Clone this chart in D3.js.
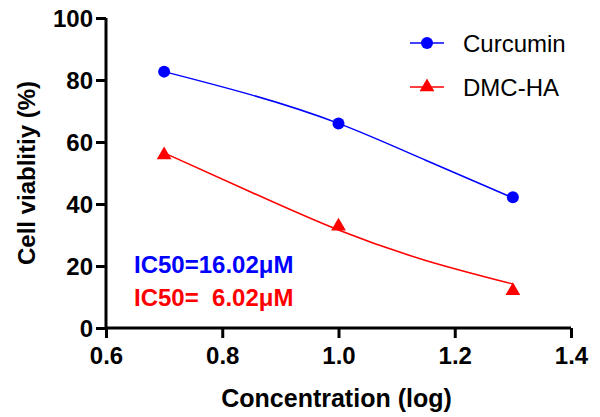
<!DOCTYPE html>
<html>
<head>
<meta charset="utf-8">
<title>Cell viability</title>
<script src="https://d3js.org/d3.v7.min.js"></script>
<style>
  body { margin: 0; background: #fff; }
  text { font-family: "Liberation Sans", Arial, sans-serif; }
</style>
</head>
<body>
<div id="chart"></div>
<script>
// data
var concentration = [0.7, 1.0, 1.3]
var curcumin = [82.7, 66.0, 42.2]
var dmcha = [55.8, 32.8, 12.0]
// fitted curves
var fitX = [0.7, 0.85, 1.0, 1.15, 1.3]
var curcuminFit = [82.7, 75.2, 66.0, 54.1, 42.0]
var dmchaFit = [56.5, 43.8, 31.6, 21.8, 14.2]
var xTicks = [0.6, 0.8, 1.0, 1.2, 1.4]
var yTicks = [0, 20, 40, 60, 80, 100]
var seriesNames = ["Curcumin", "DMC-HA"]
var ic50Labels = ["IC50=16.02\u03bcM", "IC50=\u00a0 6.02\u03bcM"]

var width = 600, height = 417
var margin = {top: 18, right: 29, bottom: 89, left: 106}

var svg = d3.select("#chart").append("svg")
    .attr("width", width)
    .attr("height", height)

var x = d3.scaleLinear().domain([0.6, 1.4]).range([margin.left, width - margin.right])
var y = d3.scaleLinear().domain([0, 100]).range([height - margin.bottom, margin.top])

// axes
var xAxis = svg.append("g")
    .attr("transform", "translate(0," + y(0) + ")")
    .call(d3.axisBottom(x).tickValues(xTicks).tickFormat(d3.format(".1f")).tickSize(10).tickPadding(9))
var yAxis = svg.append("g")
    .attr("transform", "translate(" + x(0.6) + ",0)")
    .call(d3.axisLeft(y).tickValues(yTicks).tickSize(10).tickPadding(3))

;[xAxis, yAxis].forEach(function (ax) {
    ax.select(".domain").attr("stroke", "#000").attr("stroke-width", 3)
    ax.selectAll(".tick line").attr("stroke", "#000").attr("stroke-width", 3)
    ax.selectAll(".tick text")
        .attr("fill", "#000")
        .style("font-size", "24px")
        .style("font-weight", "bold")
        .style("font-family", "'Liberation Sans', Arial, sans-serif")
})
xAxis.select(".domain").attr("d", "M" + x(0.6) + ",0H" + x(1.4))
yAxis.select(".domain").attr("d", "M0," + y(100) + "V" + y(0))
yAxis.selectAll(".tick text").attr("dy", "0.36em")

// axis titles
svg.append("text")
    .attr("x", (x(0.6) + x(1.4)) / 2 - 2)
    .attr("y", 407)
    .attr("text-anchor", "middle")
    .style("font-size", "25px")
    .style("font-weight", "bold")
    .text("Concentration (log)")

svg.append("text")
    .attr("transform", "translate(35," + ((y(0) + y(100)) / 2) + ") rotate(-90)")
    .attr("text-anchor", "middle")
    .style("font-size", "24px")
    .style("font-weight", "bold")
    .text("Cell viablitiy (%)")

var colors = ["#0000ff", "#ff0000"]
var fits = [curcuminFit, dmchaFit]

var line = d3.line()
    .x(function (d, i) { return x(fitX[i]) })
    .y(function (d) { return y(d) })
    .curve(d3.curveNatural)

fits.forEach(function (vals, k) {
    svg.append("path")
        .datum(vals)
        .attr("fill", "none")
        .attr("stroke", colors[k])
        .attr("stroke-width", 1.5)
        .attr("d", line)
})

// markers
svg.selectAll(".dot")
    .data(curcumin)
    .enter().append("circle")
    .attr("cx", function (d, i) { return x(concentration[i]) })
    .attr("cy", function (d) { return y(d) })
    .attr("r", 6)
    .attr("fill", colors[0])

var tri = d3.symbol().type(d3.symbolTriangle).size(95)
svg.selectAll(".tri")
    .data(dmcha)
    .enter().append("path")
    .attr("transform", function (d, i) { return "translate(" + x(concentration[i]) + "," + y(d) + ")" })
    .attr("d", tri)
    .attr("fill", colors[1])

// legend
var legend = svg.append("g").attr("transform", "translate(410,43)")
seriesNames.forEach(function (name, k) {
    var g = legend.append("g").attr("transform", "translate(0," + (k * 44) + ")")
    g.append("line").attr("x1", 0).attr("x2", 34).attr("y1", 0).attr("y2", 0)
        .attr("stroke", colors[k]).attr("stroke-width", 1.5)
    if (k == 0) {
        g.append("circle").attr("cx", 17).attr("cy", 0).attr("r", 6).attr("fill", colors[k])
    } else {
        g.append("path").attr("transform", "translate(17,0)").attr("d", tri).attr("fill", colors[k])
    }
    g.append("text").attr("x", 53).attr("y", 0).attr("dy", "0.36em")
        .style("font-size", "24px")
        .text(name)
})

// IC50 annotations
ic50Labels.forEach(function (t, k) {
    svg.append("text")
        .attr("x", 134)
        .attr("y", 273 + k * 33)
        .attr("fill", colors[k])
        .style("font-size", "24px")
        .style("font-weight", "bold")
        .text(t)
})
</script>
</body>
</html>
